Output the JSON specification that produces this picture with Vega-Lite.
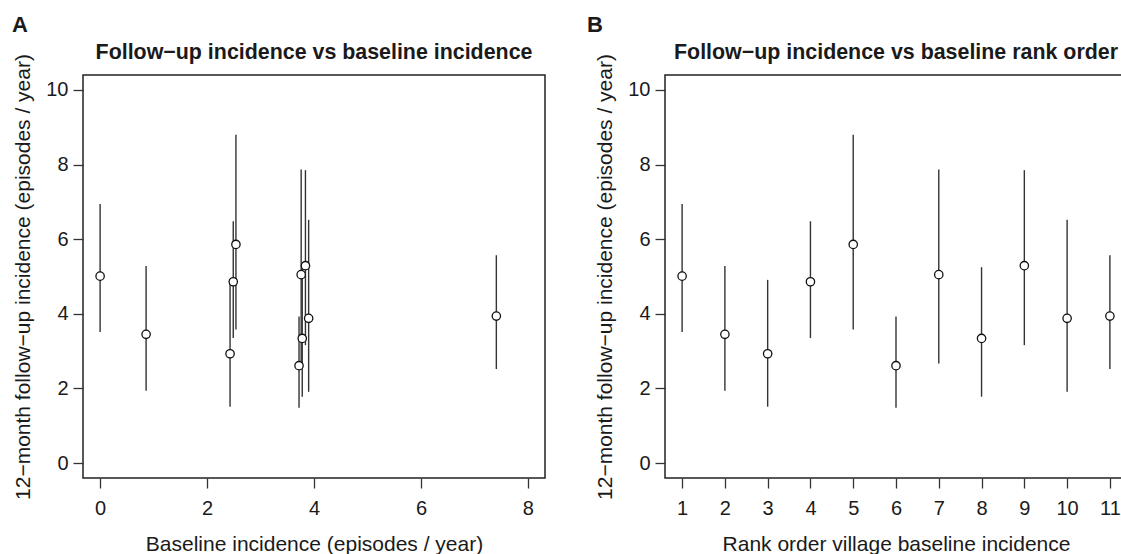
{
  "$schema": "https://vega.github.io/schema/vega-lite/v6.json",
  "padding": {"left": 12, "top": 14, "right": 0, "bottom": 0},
  "datasets": {
    "villages": [
      {"rank": 1, "baseline": 0.00, "followup": 5.01, "lower": 3.51, "upper": 6.94},
      {"rank": 2, "baseline": 0.86, "followup": 3.45, "lower": 1.94, "upper": 5.28},
      {"rank": 3, "baseline": 2.43, "followup": 2.93, "lower": 1.51, "upper": 4.91},
      {"rank": 4, "baseline": 2.49, "followup": 4.86, "lower": 3.35, "upper": 6.48},
      {"rank": 5, "baseline": 2.54, "followup": 5.86, "lower": 3.58, "upper": 8.80},
      {"rank": 6, "baseline": 3.72, "followup": 2.61, "lower": 1.48, "upper": 3.93},
      {"rank": 7, "baseline": 3.76, "followup": 5.05, "lower": 2.67, "upper": 7.87},
      {"rank": 8, "baseline": 3.78, "followup": 3.34, "lower": 1.78, "upper": 5.25},
      {"rank": 9, "baseline": 3.84, "followup": 5.29, "lower": 3.16, "upper": 7.85},
      {"rank": 10, "baseline": 3.90, "followup": 3.88, "lower": 1.91, "upper": 6.52},
      {"rank": 11, "baseline": 7.41, "followup": 3.94, "lower": 2.52, "upper": 5.57}
    ]
  },
  "config": {
    "font": "Liberation Sans",
    "background": "white",
    "view": {"stroke": "#222", "strokeWidth": 1.5},
    "axis": {
      "grid": false,
      "domain": false,
      "tickSize": 10,
      "tickColor": "#333",
      "tickWidth": 1.3,
      "labelFont": "Liberation Sans",
      "labelFontSize": 20,
      "labelColor": "#1a1a1a",
      "titleFont": "Liberation Sans",
      "titleFontSize": 21,
      "titleFontWeight": "normal",
      "titleColor": "#1a1a1a"
    },
    "axisX": {"labelPadding": 10, "titlePadding": 15},
    "axisY": {"labelPadding": 5, "titlePadding": 12},
    "title": {"color": "#1a1a1a", "font": "Liberation Sans"}
  },
  "spacing": 41,
  "hconcat": [
    {
      "title": {"text": "A", "anchor": "start", "frame": "bounds", "fontSize": 22, "fontWeight": "bold", "offset": 4},
      "vconcat": [
        {
          "width": 462,
          "height": 403,
          "data": {"name": "villages"},
          "title": {"text": "Follow−up incidence vs baseline incidence", "fontSize": 21.4, "fontWeight": "bold", "anchor": "middle", "offset": -10},
          "encoding": {
            "x": {
              "field": "baseline",
              "type": "quantitative",
              "scale": {"domain": [-0.32, 8.32], "nice": false, "zero": false},
              "axis": {"values": [0, 2, 4, 6, 8], "title": "Baseline incidence (episodes / year)"}
            }
          },
          "layer": [
            {
              "mark": {"type": "rule", "color": "#333", "strokeWidth": 1.4},
              "encoding": {
                "y": {
                  "field": "lower",
                  "type": "quantitative",
                  "scale": {"domain": [-0.4, 10.4], "nice": false, "zero": false},
                  "axis": {"values": [0, 2, 4, 6, 8, 10], "title": "12−month follow−up incidence (episodes / year)"}
                },
                "y2": {"field": "upper"}
              }
            },
            {
              "mark": {"type": "point", "filled": true, "fill": "white", "stroke": "#111", "strokeWidth": 1.3, "size": 70, "opacity": 1},
              "encoding": {"y": {"field": "followup", "type": "quantitative"}}
            }
          ]
        }
      ]
    },
    {
      "title": {"text": "B", "anchor": "start", "frame": "bounds", "fontSize": 22, "fontWeight": "bold", "offset": 4, "dx": -7},
      "vconcat": [
        {
          "width": 462,
          "height": 403,
          "data": {"name": "villages"},
          "title": {"text": "Follow−up incidence vs baseline rank order", "fontSize": 21.4, "fontWeight": "bold", "anchor": "middle", "offset": -10},
          "encoding": {
            "x": {
              "field": "rank",
              "type": "quantitative",
              "scale": {"domain": [0.6, 11.4], "nice": false, "zero": false},
              "axis": {"values": [1, 2, 3, 4, 5, 6, 7, 8, 9, 10, 11], "title": "Rank order village baseline incidence"}
            }
          },
          "layer": [
            {
              "mark": {"type": "rule", "color": "#333", "strokeWidth": 1.4},
              "encoding": {
                "y": {
                  "field": "lower",
                  "type": "quantitative",
                  "scale": {"domain": [-0.4, 10.4], "nice": false, "zero": false},
                  "axis": {"values": [0, 2, 4, 6, 8, 10], "title": "12−month follow−up incidence (episodes / year)"}
                },
                "y2": {"field": "upper"}
              }
            },
            {
              "mark": {"type": "point", "filled": true, "fill": "white", "stroke": "#111", "strokeWidth": 1.3, "size": 70, "opacity": 1},
              "encoding": {"y": {"field": "followup", "type": "quantitative"}}
            }
          ]
        }
      ]
    }
  ]
}
